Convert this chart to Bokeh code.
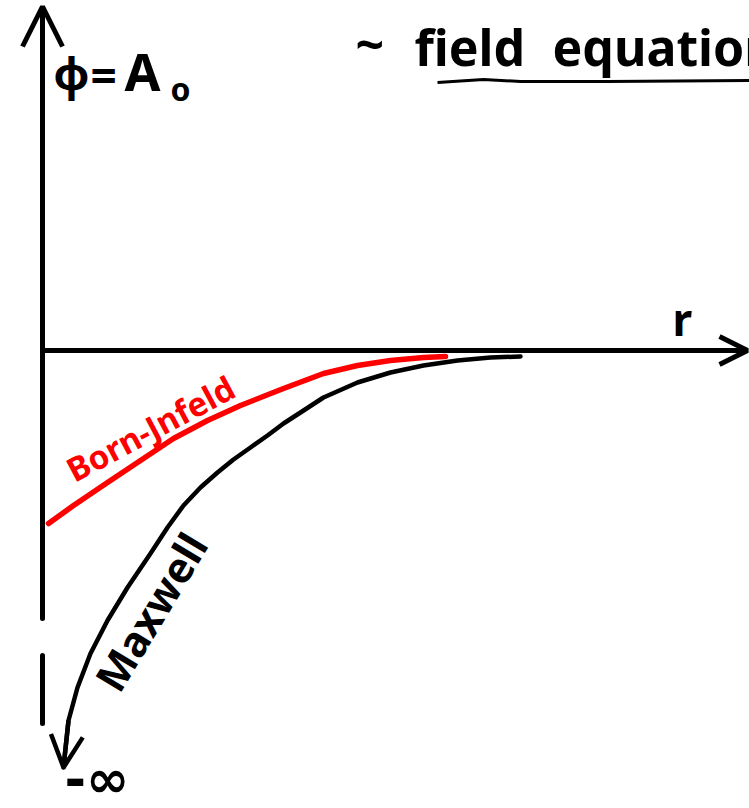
from bokeh.plotting import figure
from bokeh.models import Range1d, Arrow, OpenHead, Label
from bokeh.embed import file_html
from bokeh.resources import INLINE

W, H = 749, 808
# 100 px per unit; the r / phi origin sits at pixel (42, 350)
X0, Y0, S = 42, 350, 100


def px(x):
    return (x - X0) / S


def py(y):
    return (Y0 - y) / S


# Maxwell potential: runs off to -infinity as r -> 0
r_maxwell = [0.21, 0.26, 0.35, 0.48, 0.65, 0.85, 1.08, 1.25, 1.41, 1.58, 1.75, 1.91,
             2.08, 2.25, 2.41, 2.58, 2.81, 3.15, 3.48, 3.81, 4.15, 4.48, 4.78]
phi_maxwell = [-4.17, -3.70, -3.37, -3.03, -2.70, -2.37, -2.03, -1.77, -1.55, -1.37, -1.22, -1.09,
               -0.97, -0.85, -0.73, -0.62, -0.47, -0.32, -0.22, -0.15, -0.10, -0.07, -0.06]

# Born-Infeld potential: finite value A0 at the origin
r_born_infeld = [0.06, 0.31, 0.65, 0.98, 1.31, 1.65, 1.98, 2.41, 2.81, 3.15,
                 3.48, 3.81, 4.03]
phi_born_infeld = [-1.73, -1.55, -1.32, -1.10, -0.88, -0.70, -0.55, -0.38, -0.23, -0.15,
                   -0.10, -0.07, -0.06]

title_words = ["~", "field", "equation"]
phi_label = "φ"
eq_label = "="
a_label = "A"
a_sub = "o"
r_label = "r"
minus_inf = "-∞"
maxwell_label = "Maxwell"
born_infeld_label = "Born-Jnfeld"

FONT = "Noto Sans"
INK = "black"
RED = "#ff0000"

p = figure(width=W, height=H,
           x_range=Range1d(px(0), px(W)), y_range=Range1d(py(H), py(0)),
           output_backend="svg", toolbar_location=None, min_border=0)
p.axis.visible = False
p.grid.visible = False
p.outline_line_color = None
p.background_fill_color = "white"
p.border_fill_color = "white"

# phi axis (hand drawn, with a small break low down) and its arrow at the top
p.segment(x0=[0, 0], y0=[py(723), py(618)],
          x1=[0, 0], y1=[py(655), py(8)],
          line_width=5, line_color=INK, line_cap="round")
p.add_layout(Arrow(end=OpenHead(size=40, line_width=5, line_color=INK),
                   x_start=0, y_start=py(60), x_end=0, y_end=py(6),
                   line_width=5, line_color=INK))

# r axis and its arrow on the right
p.segment(x0=[0], y0=[0], x1=[px(745)], y1=[0], line_width=5, line_color=INK)
p.add_layout(Arrow(end=OpenHead(size=28, line_width=5, line_color=INK),
                   x_start=px(700), y_start=0, x_end=px(747), y_end=0,
                   line_width=5, line_color=INK))

# curves
p.line(r_born_infeld, phi_born_infeld, line_width=5.5, line_color=RED,
       line_cap="round", line_join="round")
p.line(r_maxwell, phi_maxwell, line_width=4.5, line_color=INK,
       line_cap="round", line_join="round")
p.add_layout(Arrow(end=OpenHead(size=32, line_width=4.5, line_color=INK),
                   x_start=r_maxwell[1], y_start=phi_maxwell[1],
                   x_end=r_maxwell[0], y_end=phi_maxwell[0],
                   line_width=4.5, line_color=INK))

# underline of the heading
ul_x = [437, 483, 520, 607, 749]
ul_y = [82, 79, 81, 81, 80]
p.line([px(v) for v in ul_x], [py(v) for v in ul_y], line_width=3, line_color=INK)


def add_text(text, x, y, size, color=INK, align="left", angle=0.0,
             style="bold", font=FONT):
    p.add_layout(Label(x=px(x), y=py(y), text=text, text_font=font,
                       text_font_size=f"{size}px", text_font_style=style,
                       text_color=color, text_align=align, text_baseline="middle",
                       angle=angle, angle_units="rad"))


# heading, word by word
add_text(title_words[0], 355, 43, 50)
add_text(title_words[1], 414, 46, 50)
add_text(title_words[2], 552, 46, 50)

# phi = A0
add_text(phi_label, 53, 72, 44)
add_text(eq_label, 90, 74, 46)
add_text(a_label, 124, 70, 52)
add_text(a_sub, 170, 88, 32)

add_text(r_label, 672, 318, 44)
add_text(minus_inf, 64, 778, 52, font="DejaVu Sans")

add_text(born_infeld_label, 150, 428, 33, color=RED, align="center", angle=0.49)
add_text(maxwell_label, 150, 611, 42, align="center", angle=1.03)

open("out.html", "w").write(file_html(p, INLINE))
